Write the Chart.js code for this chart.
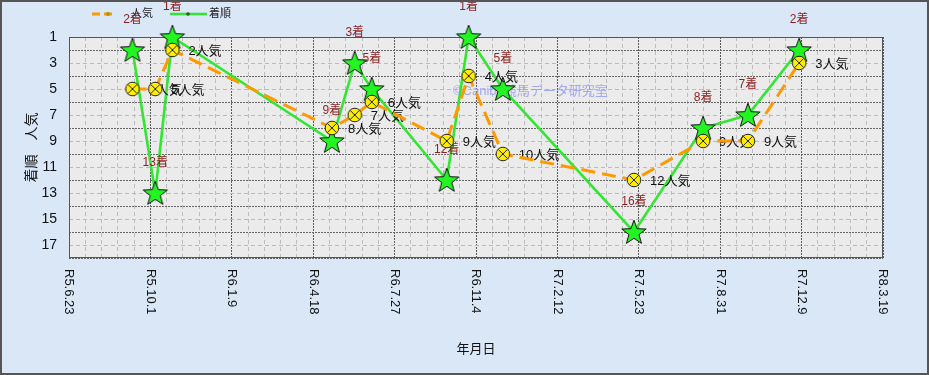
<!DOCTYPE html>
<html>
<head>
<meta charset="utf-8">
<script src="https://cdn.jsdelivr.net/npm/chart.js@4.4.0/dist/chart.umd.min.js"></script>
<style>
  html, body { margin: 0; padding: 0; background: #d9e7f7; }
  #wrap { width: 929px; height: 375px; }
</style>
</head>
<body>
<div id="wrap"><canvas id="myLineChart" width="929" height="375"></canvas></div>
<script>
// race dates, popularity (人気) and finishing position (着順)
var raceDates = ['2023-09-09', '2023-10-07', '2023-10-28', '2024-05-11', '2024-06-08', '2024-06-29',
                 '2024-09-29', '2024-10-26', '2024-12-07', '2025-05-17', '2025-08-10', '2025-10-04', '2025-12-06'];
var ninki     = [5, 5, 2, 8, 7, 6, 9, 4, 10, 12, 9, 9, 3];
var chakujun  = [2, 13, 1, 9, 3, 5, 12, 1, 5, 16, 8, 7, 2];

// x axis: one label every 100 days starting at R5.6.23
var axisStart  = '2023-06-23';
var tickLabels = ['R5.6.23', 'R5.10.1', 'R6.1.9', 'R6.4.18', 'R6.7.27', 'R6.11.4',
                  'R7.2.12', 'R7.5.23', 'R7.8.31', 'R7.12.9', 'R8.3.19'];

var FONT = '"Liberation Sans", "Noto Sans CJK JP", sans-serif';

function dayOf(s) {
    return Math.round((Date.parse(s) - Date.parse(axisStart)) / 86400000);
}

/**
 * Marker images
 */
function makeStar() {
    var c = document.createElement('canvas');
    c.width = 28; c.height = 28;
    var g = c.getContext('2d');
    g.beginPath();
    for (var i = 0; i < 10; i++) {
        var r = (i % 2 === 0) ? 12.8 : 5.3;
        var a = -Math.PI / 2 + i * Math.PI / 5;
        var px = 14 + r * Math.cos(a), py = 15 + r * Math.sin(a);
        if (i === 0) g.moveTo(px, py); else g.lineTo(px, py);
    }
    g.closePath();
    g.fillStyle = '#22f522';
    g.fill();
    g.lineWidth = 1;
    g.strokeStyle = '#111';
    g.stroke();
    return c;
}

function makeCircle() {
    var c = document.createElement('canvas');
    c.width = 16; c.height = 16;
    var g = c.getContext('2d');
    g.beginPath();
    g.arc(8, 8, 6.8, 0, Math.PI * 2);
    g.fillStyle = '#ffee00';
    g.fill();
    g.lineWidth = 1;
    g.strokeStyle = '#222';
    g.stroke();
    g.beginPath();
    var d = 4.6;
    g.moveTo(8 - d, 8 - d); g.lineTo(8 + d, 8 + d);
    g.moveTo(8 + d, 8 - d); g.lineTo(8 - d, 8 + d);
    g.stroke();
    return c;
}

var starImg = makeStar();
var circleImg = makeCircle();

var ninkiPoints = raceDates.map(function (d, i) { return {x: dayOf(d), y: ninki[i]}; });
var chakuPoints = raceDates.map(function (d, i) { return {x: dayOf(d), y: chakujun[i]}; });

var decorPlugin = {
    id: 'decor',
    beforeDraw: function (chart) {
        var ctx = chart.ctx, a = chart.chartArea;
        ctx.save();
        ctx.fillStyle = '#d9e7f7';
        ctx.fillRect(0, 0, chart.width, chart.height);
        ctx.fillStyle = '#ebebeb';
        ctx.fillRect(a.left, a.top, a.right - a.left, a.bottom - a.top);
        ctx.restore();
    },
    beforeDatasetsDraw: function (chart) {
        var ctx = chart.ctx, a = chart.chartArea;
        ctx.save();
        ctx.strokeStyle = '#555';
        ctx.lineWidth = 1;
        ctx.strokeRect(a.left + 0.5, a.top + 0.5, a.right - a.left - 1, a.bottom - a.top - 1);
        // watermark
        ctx.font = '13px ' + FONT;
        ctx.fillStyle = 'rgba(130,140,250,0.7)';
        ctx.textBaseline = 'middle';
        ctx.fillText('©Canibo競馬データ研究室', a.left + 384, a.top + 54);
        ctx.restore();
    },
    afterDatasetDraw: function (chart, args) {
        if (args.index !== 1) return;
        var ctx = chart.ctx;
        var popMeta = chart.getDatasetMeta(0).data;
        var rankMeta = chart.getDatasetMeta(1).data;
        ctx.save();
        ctx.font = '13px ' + FONT;
        ctx.textBaseline = 'middle';
        ctx.textAlign = 'left';
        ctx.fillStyle = '#111';
        popMeta.forEach(function (p, i) {
            ctx.fillText(ninki[i] + '人気', p.x + 16, p.y + 1);
        });
        ctx.font = '12px ' + FONT;
        ctx.textAlign = 'center';
        ctx.fillStyle = '#8e1f1f';
        rankMeta.forEach(function (p, i) {
            ctx.fillText(chakujun[i] + '着', p.x, p.y - 30);
        });
        ctx.restore();
    },
    afterDraw: function (chart) {
        var ctx = chart.ctx, a = chart.chartArea;
        var xs = chart.scales.x;
        ctx.save();
        // x tick labels, rotated to read downward
        ctx.font = '13px ' + FONT;
        ctx.fillStyle = '#111';
        ctx.textAlign = 'left';
        ctx.textBaseline = 'middle';
        xs.ticks.forEach(function (t) {
            if (t.value % 100 !== 0) return;
            var lbl = tickLabels[t.value / 100];
            if (!lbl) return;
            ctx.save();
            ctx.translate(xs.getPixelForValue(t.value), a.bottom + 11);
            ctx.rotate(Math.PI / 2);
            ctx.fillText(lbl, 0, 0);
            ctx.restore();
        });

        // legend
        ctx.lineWidth = 3;
        ctx.strokeStyle = '#ff9900';
        ctx.setLineDash([8, 4]);
        ctx.beginPath(); ctx.moveTo(92, 14); ctx.lineTo(114, 14); ctx.stroke();
        ctx.setLineDash([]);
        ctx.beginPath(); ctx.arc(108, 14, 2, 0, Math.PI * 2);
        ctx.fillStyle = '#aa9900'; ctx.fill();
        ctx.lineWidth = 2.5;
        ctx.strokeStyle = '#33e633';
        ctx.beginPath(); ctx.moveTo(170, 14); ctx.lineTo(207, 14); ctx.stroke();
        ctx.beginPath(); ctx.arc(188, 14, 1.8, 0, Math.PI * 2);
        ctx.fillStyle = '#335533'; ctx.fill();
        ctx.font = '11px ' + FONT;
        ctx.fillStyle = '#222';
        ctx.fillText('人気', 131, 14);
        ctx.fillText('着順', 209, 14);

        // outer frame
        ctx.strokeStyle = '#555';
        ctx.lineWidth = 2;
        ctx.strokeRect(1, 1, chart.width - 2, chart.height - 2);
        ctx.restore();
    }
};

function makeChart() {
    var ctx = document.getElementById('myLineChart').getContext('2d');

    var myLineChart = new Chart(ctx, {
        type: 'line',
        data: {
            datasets: [{
                label: '人気',
                data: ninkiPoints,
                borderColor: '#ff9900',
                borderWidth: 3,
                borderDash: [14, 7],
                fill: false,
                tension: 0,
                pointStyle: circleImg,
                clip: false
            }, {
                label: '着順',
                data: chakuPoints,
                borderColor: '#33e633',
                borderWidth: 2.6,
                fill: false,
                tension: 0,
                pointStyle: starImg,
                clip: false
            }]
        },
        options: {
            responsive: false,
            animation: false,
            events: [],
            layout: { padding: { left: 0, top: 37, right: 46, bottom: 0 } },
            plugins: {
                legend: { display: false },
                tooltip: { enabled: false }
            },
            scales: {
                x: {
                    type: 'linear',
                    min: 0,
                    max: 1000,
                    afterFit: function (s) { s.height = 117; },
                    ticks: { display: false, stepSize: 20 },
                    grid: {
                        drawTicks: false,
                        color: function (c) { return c.tick && c.tick.value % 100 === 0 ? '#5a5a5a' : '#bdbdbd'; },
                        lineWidth: 1
                    },
                    border: {
                        display: false,
                        dash: function (c) { return c.tick && c.tick.value % 100 === 0 ? [2, 1] : [4, 3]; }
                    },
                    title: {
                        display: true,
                        text: '年月日',
                        color: '#111',
                        font: { family: FONT, size: 13 },
                        padding: { top: 0, bottom: 18 }
                    }
                },
                y: {
                    reverse: true,
                    min: 1,
                    max: 18,
                    afterFit: function (s) { s.width = 69; },
                    ticks: {
                        stepSize: 1,
                        autoSkip: false,
                        padding: 12,
                        color: '#111',
                        font: { family: FONT, size: 14 },
                        callback: function (v) { return v % 2 === 1 ? v : ''; }
                    },
                    grid: {
                        drawTicks: false,
                        color: function (c) { return c.tick && c.tick.value % 2 === 0 ? '#666' : '#bbbbbb'; },
                        lineWidth: 1
                    },
                    border: {
                        display: false,
                        dash: function (c) { return c.tick && c.tick.value % 2 === 0 ? [2, 1] : [4, 3]; }
                    },
                    title: {
                        display: true,
                        text: '着順　人気',
                        color: '#111',
                        font: { family: FONT, size: 14 },
                        padding: { top: 24, bottom: 0 }
                    }
                }
            }
        },
        plugins: [decorPlugin]
    });
}

makeChart();
</script>
</body>
</html>
